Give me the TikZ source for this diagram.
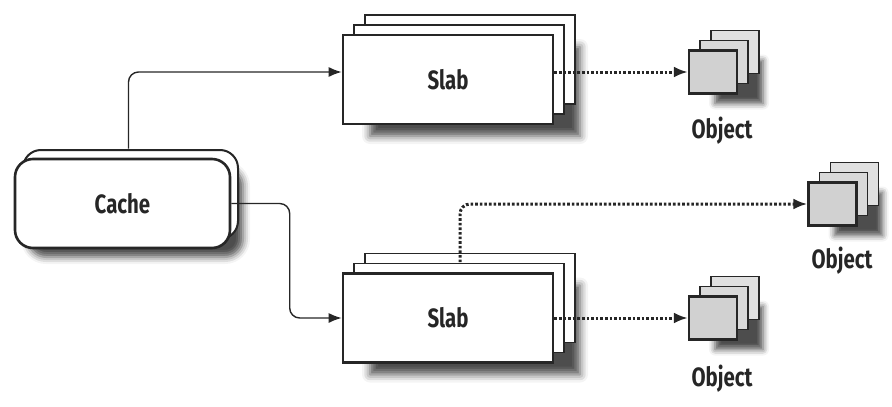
\documentclass[tikz,border=0pt]{standalone}
\usepackage{fontspec}
\setsansfont{Fira Sans}[FakeStretch=0.77]
\usetikzlibrary{arrows.meta,shadows,shadows.blur}

\tikzstyle{every node}=[font=\sffamily\bfseries\fontsize{26.5}{29}\selectfont, inner sep=0pt, text=black!85]
\tikzstyle{cachebox}=[draw=black!85, line width=2.6pt, fill=white, rounded corners=18pt,
  minimum width=215pt, minimum height=89pt,
  blur shadow={shadow xshift=13pt, shadow yshift=-9pt, shadow blur radius=7pt, shadow opacity=70},
  copy shadow={shadow xshift=8pt, shadow yshift=9pt, line width=2pt}]
\tikzstyle{slabbox}=[draw=black!85, line width=2.6pt, fill=white,
  minimum width=210pt, minimum height=89pt,
  blur shadow={shadow xshift=27pt, shadow yshift=-12pt, shadow blur radius=8pt, shadow opacity=70},
  copy shadow={shadow xshift=22pt, shadow yshift=20pt, line width=1.8pt},
  copy shadow={shadow xshift=11pt, shadow yshift=10pt, line width=1.8pt}]
\tikzstyle{objbox}=[draw=black!85, line width=2.4pt, fill=black!18,
  minimum width=48pt, minimum height=43pt,
  blur shadow={shadow xshift=26pt, shadow yshift=-10pt, shadow blur radius=6pt, shadow opacity=70},
  copy shadow={shadow xshift=22pt, shadow yshift=20pt, line width=1.8pt, fill=black!12},
  copy shadow={shadow xshift=11pt, shadow yshift=10pt, line width=1.8pt, fill=black!15}]
\tikzstyle{link}=[line width=1.4pt, black!85, rounded corners=10pt, -{Latex[length=13pt,width=10pt]}]
\tikzstyle{dots}=[line width=3pt, black!85, dash pattern=on 2.6pt off 2pt, rounded corners=10pt,
  -{Latex[length=14pt,width=11pt]}]

\begin{document}
\begin{tikzpicture}[x=1pt, y=-1pt]
\useasboundingbox (0,0) rectangle (892,407);
% Cache
    \node[cachebox] (cache) at (122.5,203.5) {Cache};
% Slabs
    \node[slabbox] (slabA) at (448,79.5) {Slab};
    \node[slabbox] (slabB) at (448,318) {Slab};
% Objects
    \node[objbox] (objA) at (713,72) {};
    \node[objbox] (objB) at (832.5,204) {};
    \node[objbox] (objC) at (713,318) {};
    \node (objAtext) at (722,131) {Object};
    \node (objBtext) at (842,261) {Object};
    \node (objCtext) at (722,379) {Object};
% Cache to slabs
    \draw[link] ([xshift=6pt,yshift=9pt]cache.north) |- ([yshift=7.5pt]slabA.west);
    \draw[link] (cache.east) -| ([xshift=-52pt]slabB.west) -- (slabB.west);
% Slabs to objects
    \draw[dots] ([yshift=7.5pt]slabA.east) -- (objA.west);
    \draw[dots] ([xshift=12pt,yshift=10pt]slabB.north) |- (objB.west);
    \draw[dots] (slabB.east) -- (objC.west);
\end{tikzpicture}
\end{document}
